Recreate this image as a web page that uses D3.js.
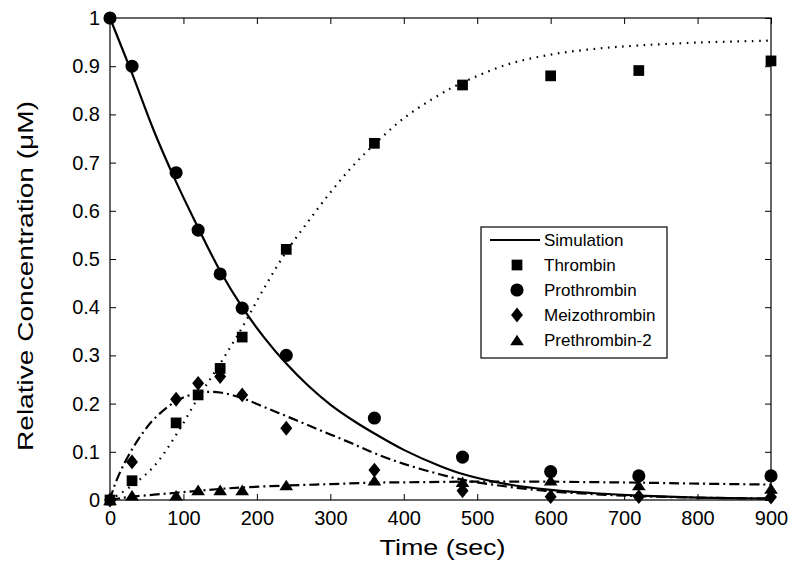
<!DOCTYPE html>
<html>
<head>
<meta charset="utf-8">
<script src="https://cdn.jsdelivr.net/npm/d3@7"></script>
<style>
  html, body { margin: 0; padding: 0; background: #fff; }
  svg { display: block; }
  text { font-family: "Liberation Sans", Arial, Helvetica, sans-serif; fill: #000; }
</style>
</head>
<body>
<svg id="chart" width="800" height="570"></svg>
<script>
// ---------- data ----------
const times = [0, 30, 90, 120, 150, 180, 240, 360, 480, 600, 720, 900];
const thrombin      = [0, 0.04, 0.16, 0.218, 0.273, 0.338, 0.52, 0.74, 0.861, 0.88, 0.891, 0.911];
const prothrombin   = [1.0, 0.90, 0.679, 0.56, 0.469, 0.398, 0.30, 0.17, 0.089, 0.059, 0.05, 0.05];
const meizothrombin = [0, 0.079, 0.209, 0.242, 0.256, 0.218, 0.149, 0.062, 0.019, 0.007, 0.007, 0.006];
const prethrombin2  = [0, 0.01, 0.01, 0.021, 0.021, 0.021, 0.031, 0.041, 0.038, 0.041, 0.031, 0.024];

// simulation curves
const simProthrombin = [[0,1],[30,0.885],[60,0.765],[90,0.66],[120,0.565],[150,0.475],[180,0.4],[210,0.337],[240,0.283],[270,0.237],[300,0.198],[330,0.166],[360,0.138],[400,0.104],[450,0.07],[480,0.054],[540,0.033],[600,0.021],[660,0.014],[720,0.009],[800,0.005],[900,0.003]];
const simThrombin = [[0,0],[30,0.03],[60,0.07],[90,0.135],[120,0.212],[150,0.283],[180,0.358],[210,0.44],[240,0.515],[270,0.578],[300,0.638],[330,0.692],[360,0.738],[400,0.792],[450,0.842],[480,0.866],[540,0.903],[600,0.924],[660,0.936],[720,0.943],[800,0.949],[900,0.953]];
const simMeizothrombin = [[0,0],[5,0.025],[15,0.062],[30,0.105],[45,0.14],[60,0.168],[90,0.205],[120,0.222],[150,0.223],[180,0.211],[210,0.193],[240,0.174],[270,0.155],[300,0.136],[330,0.117],[360,0.097],[400,0.075],[450,0.053],[480,0.042],[540,0.028],[600,0.018],[660,0.012],[720,0.008],[800,0.005],[900,0.003]];
const simPrethrombin2 = [[0,0],[15,0.004],[30,0.007],[60,0.011],[90,0.015],[120,0.019],[150,0.023],[180,0.026],[240,0.03],[300,0.033],[360,0.036],[420,0.037],[480,0.038],[540,0.038],[600,0.038],[660,0.037],[720,0.036],[800,0.034],[900,0.032]];

const xTicks = [0, 100, 200, 300, 400, 500, 600, 700, 800, 900];
const xTickLabels = ["0", "100", "200", "300", "400", "500", "600", "700", "800", "900"];
const yTicks = [0, 0.1, 0.2, 0.3, 0.4, 0.5, 0.6, 0.7, 0.8, 0.9, 1];
const yTickLabels = ["0", "0.1", "0.2", "0.3", "0.4", "0.5", "0.6", "0.7", "0.8", "0.9", "1"];
const legendLabels = ["Simulation", "Thrombin", "Prothrombin", "Meizothrombin", "Prethrombin-2"];

// ---------- layout ----------
const svg = d3.select("#chart");
const L = 110, R = 771, T = 18, B = 500;
const x = d3.scaleLinear().domain([0, 900]).range([L, R]);
const y = d3.scaleLinear().domain([0, 1]).range([B, T]);

// custom marker shapes
const diamondShape = { draw(ctx, size) {
  const h = Math.sqrt(size) * 0.68, w = h * 0.8;
  ctx.moveTo(0, -h); ctx.lineTo(w, 0); ctx.lineTo(0, h); ctx.lineTo(-w, 0); ctx.closePath();
}};
const triangleShape = { draw(ctx, size) {
  const w = Math.sqrt(size) * 0.6, h = w * 1.55;
  ctx.moveTo(0, -h / 2); ctx.lineTo(w, h / 2); ctx.lineTo(-w, h / 2); ctx.closePath();
}};
const markers = {
  thrombin: d3.symbol().type(d3.symbolSquare).size(115),
  prothrombin: d3.symbol().type(d3.symbolCircle).size(135),
  meizothrombin: d3.symbol().type(diamondShape).size(120),
  prethrombin2: d3.symbol().type(triangleShape).size(130)
};

// ---------- axes ----------
const fontTick = 20;
const gx = svg.append("g").attr("transform", `translate(0,${B})`)
  .call(d3.axisBottom(x).tickValues(xTicks).tickFormat((d, i) => xTickLabels[i]).tickSize(-6).tickSizeOuter(0).tickPadding(11));
const gxTop = svg.append("g").attr("transform", `translate(0,${T})`)
  .call(d3.axisTop(x).tickValues(xTicks).tickFormat("").tickSize(-6).tickSizeOuter(0));
const gy = svg.append("g").attr("transform", `translate(${L},0)`)
  .call(d3.axisLeft(y).tickValues(yTicks).tickFormat((d, i) => yTickLabels[i]).tickSize(-6).tickSizeOuter(0).tickPadding(10));
const gyRight = svg.append("g").attr("transform", `translate(${R},0)`)
  .call(d3.axisRight(y).tickValues(yTicks).tickFormat("").tickSize(-6).tickSizeOuter(0));
[gx, gxTop, gy, gyRight].forEach(g => {
  g.selectAll(".domain").remove();
  g.selectAll(".tick line").attr("stroke", "#000").attr("stroke-width", 1);
  g.selectAll(".tick text").attr("font-size", fontTick).attr("fill", "#000")
    .attr("font-family", "'Liberation Sans', Arial, sans-serif");
});
svg.append("rect").attr("x", L).attr("y", T).attr("width", R - L).attr("height", B - T)
  .attr("fill", "none").attr("stroke", "#000").attr("stroke-width", 1.2);

// axis titles
svg.append("text").attr("x", (L + R) / 2 + 2).attr("y", 555).attr("text-anchor", "middle")
  .attr("font-size", 22).attr("textLength", 126).attr("lengthAdjust", "spacingAndGlyphs").text("Time (sec)");
svg.append("text").attr("transform", `translate(33,276) rotate(-90)`).attr("text-anchor", "middle")
  .attr("font-size", 22).attr("textLength", 350).attr("lengthAdjust", "spacingAndGlyphs").text("Relative Concentration (\u03BCM)");

// ---------- curves ----------
const line = d3.line().x(d => x(d[0])).y(d => y(d[1])).curve(d3.curveCatmullRom.alpha(0.5));
const plot = svg.append("g");
plot.append("path").datum(simThrombin).attr("d", line).attr("fill", "none").attr("stroke", "#000")
  .attr("stroke-width", 2.2).attr("stroke-dasharray", "1.6,5.6");
plot.append("path").datum(simProthrombin).attr("d", line).attr("fill", "none").attr("stroke", "#000")
  .attr("stroke-width", 2.2);
plot.append("path").datum(simMeizothrombin).attr("d", line).attr("fill", "none").attr("stroke", "#000")
  .attr("stroke-width", 2.2).attr("stroke-dasharray", "10,4,2,4");
plot.append("path").datum(simPrethrombin2).attr("d", line).attr("fill", "none").attr("stroke", "#000")
  .attr("stroke-width", 2.2).attr("stroke-dasharray", "10,4,2,4");

// ---------- markers ----------
function drawSeries(values, gen) {
  plot.append("g").selectAll("path").data(values).join("path")
    .attr("transform", (d, i) => `translate(${x(times[i])},${y(d)})`)
    .attr("d", gen).attr("fill", "#000");
}
drawSeries(prethrombin2, markers.prethrombin2);
drawSeries(meizothrombin, markers.meizothrombin);
drawSeries(thrombin, markers.thrombin);
drawSeries(prothrombin, markers.prothrombin);

// ---------- legend ----------
const lg = svg.append("g");
const lx = 481, ly = 227, lw = 186, lh = 131;
lg.append("rect").attr("x", lx).attr("y", ly).attr("width", lw).attr("height", lh)
  .attr("fill", "#fff").attr("stroke", "#000").attr("stroke-width", 1.2);
const rowY = [240, 265, 290, 315, 340];
lg.append("line").attr("x1", 490).attr("x2", 540).attr("y1", rowY[0]).attr("y2", rowY[0])
  .attr("stroke", "#000").attr("stroke-width", 2.2);
const legMarkers = [null, markers.thrombin, markers.prothrombin, markers.meizothrombin, markers.prethrombin2];
legMarkers.forEach((m, i) => {
  if (m) lg.append("path").attr("transform", `translate(517,${rowY[i]})`).attr("d", m).attr("fill", "#000");
});
lg.selectAll("text.leg").data(legendLabels).join("text").attr("class", "leg")
  .attr("x", 544).attr("y", (d, i) => rowY[i]).attr("dy", "0.36em")
  .attr("font-size", 17).attr("textLength", d => null).text(d => d);
</script>
</body>
</html>
